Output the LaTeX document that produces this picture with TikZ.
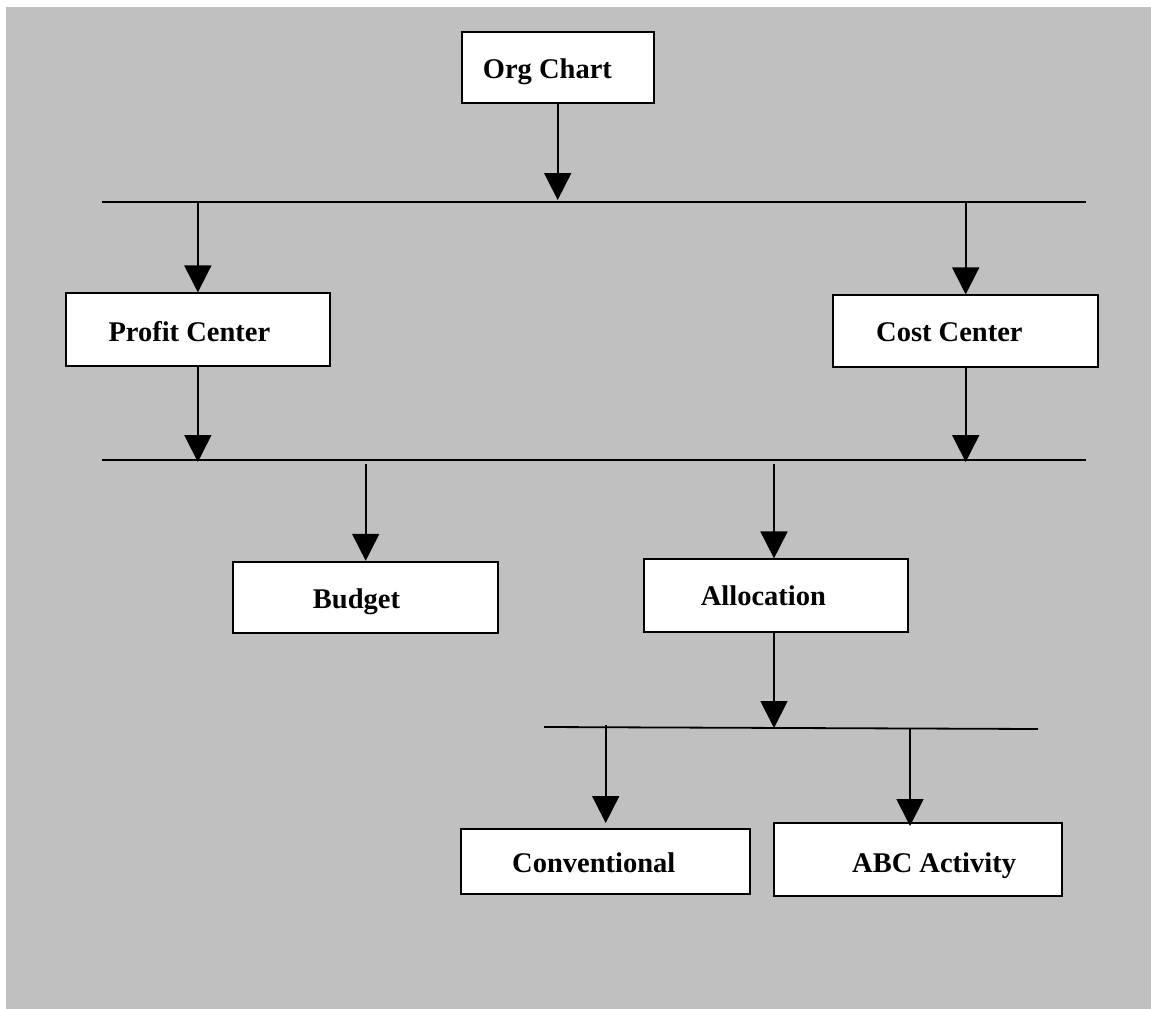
\documentclass[tikz,border=0pt]{standalone}
\usepackage{fontspec}
\setmainfont{Liberation Serif}
\usetikzlibrary{arrows.meta}
\definecolor{bg}{RGB}{192,192,192}
\begin{document}
\begin{tikzpicture}[x=1pt,y=-1pt,
  box/.style={draw=black,line width=1.8pt,fill=white,rectangle,inner sep=0pt},
  lbl/.style={font=\fontsize{28.5}{34}\selectfont\bfseries,inner sep=0pt,anchor=base west},
  bus/.style={line width=1.8pt},
  arr/.style={line width=1.8pt,-{Triangle[length=27pt,width=27pt]}}]
\fill[white] (0,0) rectangle (1151,1009);
\fill[bg] (6,7) rectangle (1151,1009);
\useasboundingbox (0,0) rectangle (1151,1009);

% boxes
\node[box,minimum width=192pt,minimum height=71.6pt] (org) at (557.7,67.5) {};
\node[box,minimum width=264.3pt,minimum height=72.4pt] (profit) at (197.85,329.5) {};
\node[box,minimum width=264.7pt,minimum height=72pt] (cost) at (965.7,331.3) {};
\node[box,minimum width=264.7pt,minimum height=71.6pt] (budget) at (365.7,597.5) {};
\node[box,minimum width=264.3pt,minimum height=72.4pt] (alloc) at (775.85,595.5) {};
\node[box,minimum width=289pt,minimum height=65pt] (conv) at (605.5,861.5) {};
\node[box,minimum width=288.3pt,minimum height=72.7pt] (abc) at (918.15,859.65) {};

% labels
\node[lbl] (orgt) at (482.7,78.3) {Org Chart};
\node[lbl] (profitt) at (108.3,341) {Profit Center};
\node[lbl] (costt) at (876,341.7) {Cost Center};
\node[lbl] (budgett) at (312.7,608.3) {Budget};
\node[lbl] (alloct) at (700.7,605.7) {Allocation};
\node[lbl] (convt) at (512,872) {Conventional};
\node[lbl] (abct) at (852,872) {ABC Activity};

% bus lines
\coordinate (b1l) at (102,202);
\coordinate (b1r) at (1086,202);
\coordinate (b2l) at (102,460);
\coordinate (b2r) at (1086,460);
\coordinate (b3l) at (544,727);
\coordinate (b3r) at (1038,729);
\draw[bus] (b1l) -- (b1r);
\draw[bus] (b2l) -- (b2r);
\draw[bus] (b3l) -- (b3r);

% arrow endpoints on bus lines
\coordinate (o1) at (557.7,200);
\coordinate (p1) at (197.85,202);
\coordinate (c1) at (965.7,202);
\coordinate (p2) at (197.85,462);
\coordinate (c2) at (965.7,462);
\coordinate (bu2) at (365.7,464);
\coordinate (al2) at (774,464);
\coordinate (al3) at (774,728);
\coordinate (cv3) at (605.7,725);
\coordinate (ab3) at (910,729);
\coordinate (cvtip) at (605.7,823);
\coordinate (abtip) at (910,826);

% connectors
\draw[arr] (org.south) -- (o1);
\draw[arr] (p1) -- (profit.north);
\draw[arr] (c1) -- (cost.north);
\draw[arr] (profit.south) -- (p2);
\draw[arr] (cost.south) -- (c2);
\draw[arr] (bu2) -- (budget.north);
\draw[arr] (al2) -- (al2 |- alloc.north);
\draw[arr] (al2 |- alloc.south) -- (al3);
\draw[arr] (cv3) -- (cvtip);
\draw[arr] (ab3) -- (abtip);
\end{tikzpicture}
\end{document}
